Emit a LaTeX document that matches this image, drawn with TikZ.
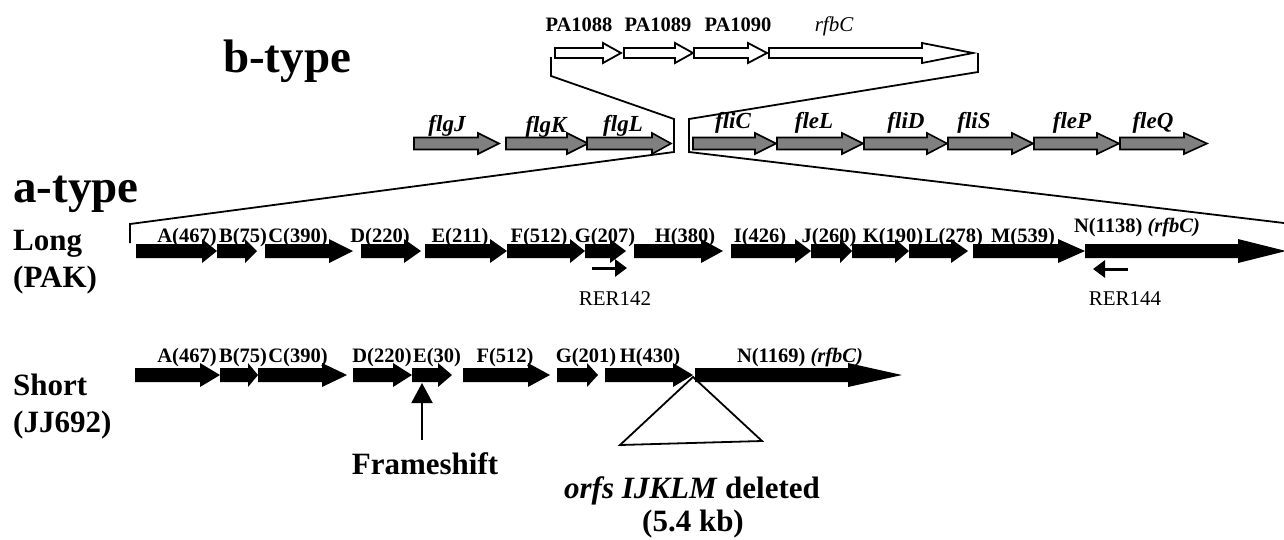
\documentclass[tikz,border=0pt]{standalone}
\usepackage{fontspec}
\setmainfont{Liberation Serif}
\usetikzlibrary{arrows.meta}

\begin{document}
\begin{tikzpicture}[x=1pt,y=-1pt,line join=miter,
    orf/.style={fill=black},
    flag/.style={fill=gray,draw=black,line width=1.6pt},
    plain/.style={fill=white,draw=black,line width=1.8pt},
    link/.style={line width=1.8pt},
    gname/.style={font=\fontsize{20.5}{24}\selectfont\bfseries,anchor=base,inner sep=0pt},
    fname/.style={font=\fontsize{23}{26}\selectfont\bfseries\itshape,anchor=base,inner sep=0pt},
    primer/.style={font=\fontsize{21}{24}\selectfont,anchor=base,inner sep=0pt},
    strain/.style={font=\fontsize{31}{37}\selectfont\bfseries,anchor=base west,inner sep=0pt},
    note/.style={font=\fontsize{31}{37}\selectfont\bfseries,anchor=base,inner sep=0pt},
    title/.style={font=\fontsize{47}{56}\selectfont\bfseries,anchor=base west,inner sep=0pt},
    tip/.style={line width=3pt,-{Triangle[length=12pt,width=17pt]}}]
  \useasboundingbox (0,0) rectangle (1284,539);

  % titles and strains
  \node[title] (btype) at (223,72) {b-type};
  \node[title] (atype) at (13,202) {a-type};
  \node[strain] (long) at (13,250) {Long};
  \node[strain] (pak) at (13,287) {(PAK)};
  \node[strain] (short) at (13,395) {Short};
  \node[strain] (jj) at (13,432) {(JJ692)};

  % b-type cluster
  \foreach \s/\h/\t in {555/603/621,624/675/693,694/748/767,769/922/973}
    \filldraw[plain] (\s,48) -- (\h,48) -- (\h,43) -- (\t,53) -- (\h,63) -- (\h,58) -- (\s,58) -- cycle;
  \node[gname] (pa88) at (579,31) {PA1088};
  \node[gname] (pa89) at (658,31) {PA1089};
  \node[gname] (pa90) at (738,31) {PA1090};
  \node[primer,font=\fontsize{21}{24}\selectfont\itshape] (brfbc) at (834,31) {rfbC};

  % flagellar genes
  \foreach \s/\h/\t in {414/478/499,506/567/588,587/652/671,693/755/776,777/842/863,864/927/947,948/1012/1033,1034/1097/1119,1120/1184/1207}
    \filldraw[flag] (\s,137.5) -- (\h,137.5) -- (\h,133) -- (\t,143.5) -- (\h,154) -- (\h,149.5) -- (\s,149.5) -- cycle;
  \foreach \n/\x/\y in {flgJ/447/131,flgK/546/132,flgL/623/131,fliC/733/128,fleL/814/128,fliD/906/128,fliS/974/128,fleP/1072/128,fleQ/1153/128}
    \node[fname] (\n) at (\x,\y) {\n};

  % insertion brackets
  \coordinate (wl) at (551,57);
  \coordinate (wlb) at (551,76);
  \coordinate (wr) at (978,53);
  \coordinate (wrb) at (978,72);
  \coordinate (gl) at (674,119);
  \coordinate (glb) at (674,152);
  \coordinate (gr) at (689,119);
  \coordinate (grb) at (689,152);
  \coordinate (ll) at (130,243);
  \coordinate (llt) at (130,224);
  \coordinate (lr) at (1284,223);
  \draw[link] (wl) -- (wlb) -- (gl) -- (glb) -- (llt) -- (ll);
  \draw[link] (wr) -- (wrb) -- (gr) -- (grb) -- (lr);

  % long a-type
  \foreach \s/\h/\t in {136/202/217,217/245/257,265/329/353,361/404/421,425/490/507,507/570/585,585/610/626,634/701/723,731/795/811,811/840/852,852/895/909,909/951/968,973/1058/1085,1085/1238/1286}
    \fill[orf] (\s,244) -- (\h,244) -- (\h,239) -- (\t,251) -- (\h,263) -- (\h,258) -- (\s,258) -- cycle;
  \foreach \n/\x/\t in {A/187/A(467),B/243/B(75),C/298/C(390),D/380/D(220),E/460/E(211),F/539/F(512),G/605/G(207),H/685/H(380),I/760/I(426),J/829/J(260),K/893/K(190),L/954/L(278),M/1023/M(539)}
    \node[gname] (long\n) at (\x,242) {\t};
  \node[gname] (longN) at (1137,232) {N(1138) \textit{(rfbC)}};

  % primers
  \coordinate (p1a) at (592,268);
  \coordinate (p1b) at (627,268);
  \coordinate (p2a) at (1128,269);
  \coordinate (p2b) at (1093,269);
  \draw[tip] (p1a) -- (p1b);
  \draw[tip] (p2a) -- (p2b);
  \node[primer] (rer142) at (615,305) {RER142};
  \node[primer] (rer144) at (1125,305) {RER144};

  % short a-type
  \foreach \s/\h/\t in {135/200/220,220/248/258,258/322/347,353/393/412,412/438/452,463/528/550,557/587/598,605/673/693,695/848/902}
    \fill[orf] (\s,368) -- (\h,368) -- (\h,363) -- (\t,375) -- (\h,387) -- (\h,382) -- (\s,382) -- cycle;
  \foreach \n/\x/\t in {A/187/A(467),B/243/B(75),C/298/C(390),D/382/D(220),E/437/E(30),F/505/F(512),G/586/G(201),H/650/H(430)}
    \node[gname] (short\n) at (\x,362) {\t};
  \node[gname] (shortN) at (800,362) {N(1169) \textit{(rfbC)}};

  % frameshift
  \node[note] (fshift) at (425,474) {Frameshift};
  \coordinate (fsa) at (422,440);
  \coordinate (fsb) at (422,383);
  \draw[line width=2pt,-{Triangle[length=20pt,width=21pt]}] (fsa) -- (fsb);

  % deletion
  \coordinate (del) at (693,377);
  \coordinate (dell) at (620,445);
  \coordinate (delr) at (762,441);
  \draw[link] (del) -- (dell) -- (delr) -- cycle;
  \node[note] (deleted) at (692,498) {\textit{orfs IJKLM} deleted};
  \node[note] (size) at (693,531) {(5.4 kb)};
\end{tikzpicture}
\end{document}
